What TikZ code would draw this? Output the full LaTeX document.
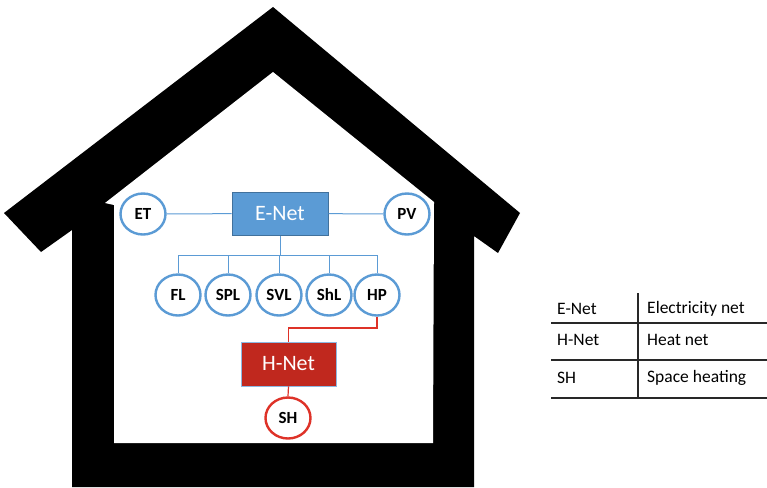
\documentclass[tikz,border=0pt]{standalone}
\usepackage{fontspec}
\setmainfont{Carlito}
\usetikzlibrary{shapes.geometric}
\definecolor{eblue}{RGB}{91,155,213}
\definecolor{eborder}{RGB}{65,113,156}
\definecolor{hred}{RGB}{192,40,30}
\definecolor{hline}{RGB}{222,50,40}
\definecolor{tline}{RGB}{40,40,40}
\tikzset{
  dev/.style={ellipse, draw=eblue, line width=2.4pt, fill=white,
    minimum width=45pt, minimum height=41pt, inner sep=0pt,
    font=\fontsize{17}{17}\selectfont\bfseries},
  heatdev/.style={dev, draw=hline},
  netbox/.style={rectangle, inner sep=0pt, text=white,
    font=\fontsize{22}{22}\selectfont},
  ewire/.style={draw=eblue, line width=1pt},
  hwire/.style={draw=hline, line width=1.2pt},
  rule/.style={draw=tline, line width=1.3pt},
  cell/.style={anchor=west, inner sep=0pt, font=\fontsize{17.5}{17.5}\selectfont}
}
\begin{document}
\begin{tikzpicture}[x=1pt,y=-1pt]
\useasboundingbox (0,0) rectangle (767,487);
% house outline
\fill[black] (273,7) -- (520,213) -- (498,253) -- (474,236) -- (474,487)
  -- (72,487) -- (72,230) -- (41,252) -- (4,213) -- cycle;
\fill[white] (105,203) -- (273,72) -- (434,202) -- (433,443) -- (114,443)
  -- (114,205) -- cycle;

% electricity network
\node[netbox, fill=eblue, draw=eborder, line width=1pt,
  minimum width=96pt, minimum height=43pt] (enet) at (280,213.5) {E-Net};
\node[dev] (et) at (143,214) {ET};
\node[dev] (pv) at (407,214) {PV};
\node[dev] (fl) at (178,295) {FL};
\node[dev] (spl) at (228,295) {SPL};
\node[dev] (svl) at (279,295) {SVL};
\node[dev] (shl) at (329,295) {ShL};
\node[dev] (hp) at (377,295) {HP};
\coordinate (bus) at (280,255);

\draw[ewire] (et) -- (enet);
\draw[ewire] (enet) -- (pv);
\draw[ewire] (enet.south) -- (bus);
\draw[ewire] (fl.north) |- (bus);
\draw[ewire] (hp.north) |- (bus);
\draw[ewire] (spl.north) -- (spl.north |- bus);
\draw[ewire] (svl.north) -- (svl.north |- bus);
\draw[ewire] (shl.north) -- (shl.north |- bus);

% heat network
\node[netbox, fill=hred, draw=eblue!70, line width=0.8pt,
  minimum width=95pt, minimum height=44pt] (hnet) at (288.5,364) {H-Net};
\node[heatdev] (sh) at (288,418) {SH};
\coordinate (hbend) at (377,328);
\draw[hwire] (hp.south) -- (hbend) -| (hnet.north);
\draw[hwire] (hnet.south) -- (sh.north);

% legend table
\draw[rule] (551,323) -- (767,323);
\draw[rule] (551,360) -- (767,360);
\draw[rule] (551,398) -- (767,398);
\draw[rule] (638,293) -- (638,398);
\node[cell] (k1) at (557,309) {E-Net};
\node[cell] (v1) at (647,309) {Electricity net};
\node[cell] (k2) at (557,340) {H-Net};
\node[cell] (v2) at (647,340) {Heat net};
\node[cell] (k3) at (557,378) {SH};
\node[cell] (v3) at (647,378) {Space heating};
\end{tikzpicture}
\end{document}
